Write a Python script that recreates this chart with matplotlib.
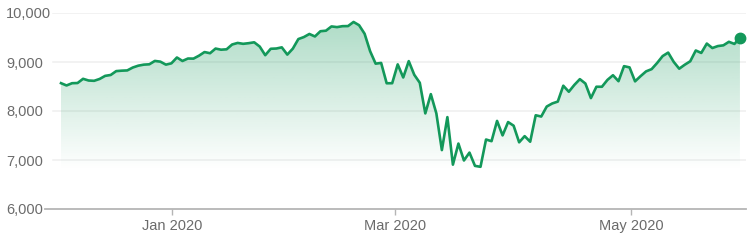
import numpy as np
import pandas as pd
import matplotlib
matplotlib.use('Agg')
import matplotlib.pyplot as plt
import matplotlib.dates as mdates

plt.rcParams['font.family'] = ['Liberation Sans', 'DejaVu Sans']

# trading days Dec 2019 - May 2020
holidays = ['2019-12-25', '2020-01-01', '2020-01-20', '2020-02-17', '2020-04-10', '2020-05-25']
dates = pd.bdate_range('2019-12-02', '2020-05-29', freq='C', holidays=holidays)

close_dec = [8568, 8521, 8567, 8571, 8657, 8622, 8616, 8654, 8717, 8735, 8814,
             8823, 8828, 8887, 8925, 8946, 8953, 9022, 9007, 8946, 8973]
close_jan = [9092, 9021, 9071, 9069, 9129, 9203, 9179, 9274, 9251, 9259, 9357,
             9389, 9371, 9384, 9402, 9315, 9139, 9270, 9275, 9299, 9151]
close_feb = [9273, 9468, 9509, 9572, 9521, 9628, 9639, 9726, 9712, 9731, 9733,
             9817, 9751, 9577, 9221, 8966, 8981, 8566, 8567]
close_mar = [8952, 8684, 9018, 8739, 8576, 7951, 8344, 7952, 7202, 7875, 6905,
             7335, 6990, 7151, 6880, 6861, 7418, 7384, 7798, 7502, 7774, 7700]
close_apr = [7361, 7487, 7373, 7913, 7887, 8091, 8154, 8192, 8516, 8393, 8532,
             8650, 8561, 8263, 8495, 8495, 8635, 8730, 8608, 8915, 8890]
close_may = [8605, 8711, 8809, 8854, 8980, 9121, 9192, 9003, 8863, 8944, 9015,
             9235, 9185, 9376, 9285, 9325, 9340, 9412, 9369, 9490]
closes = np.array(close_dec + close_jan + close_feb + close_mar + close_apr + close_may)

yticks = [6000, 7000, 8000, 9000, 10000]
xtick_dates = ['2020-01-01', '2020-03-01', '2020-05-01']
xtick_labels = ['Jan 2020', 'Mar 2020', 'May 2020']

green = '#13985a'
grey_txt = '#6b6b6b'

idx = np.arange(len(closes))
# ticks sit at calendar position between trading points
dnum = mdates.date2num(dates + pd.Timedelta(hours=16))
tick_pos = np.interp(mdates.date2num(pd.to_datetime(xtick_dates)), dnum, idx)

fig = plt.figure(figsize=(7.55, 2.41), dpi=100)
ax = fig.add_axes([45/755, 32/241, 701/755, 196/241])
ax.set_xlim(-2.9, len(closes) - 1 + 1.1)
ax.set_ylim(6000, 10000)

# gridlines
for v in yticks[1:]:
    ax.axhline(v, xmin=8/701, xmax=1, color='#efefef', lw=1.1, zorder=0)

# gradient fill under line
poly = ax.fill_between(idx, closes, 6000, color='none', lw=0)
grad = np.linspace(0, 1, 256).reshape(-1, 1)
vals = 6000 + grad * 4000
alpha = np.clip((vals - 6800) / (10000 - 6800), 0, 1) * 0.36
rgba = np.zeros((256, 1, 4))
rgba[..., 0] = 0x13 / 255
rgba[..., 1] = 0x98 / 255
rgba[..., 2] = 0x5a / 255
rgba[..., 3] = alpha
im = ax.imshow(rgba, extent=[idx[0], idx[-1], 6000, 10000], origin='lower',
               aspect='auto', zorder=1, interpolation='bilinear')
im.set_clip_path(poly.get_paths()[0], transform=ax.transData)

ax.plot(idx, closes, color=green, lw=1.9, zorder=3, solid_joinstyle='round')
ax.plot(idx[-1], closes[-1], 'o', color=green, ms=7.5, zorder=4)

for s in ['top', 'right', 'left']:
    ax.spines[s].set_visible(False)
ax.spines['bottom'].set_color('#b5b5b5')
ax.spines['bottom'].set_linewidth(1.3)

ax.set_yticks(yticks)
ax.set_yticklabels([f'{v:,}' for v in yticks])
ax.tick_params(axis='y', length=0, pad=28, labelsize=10.5, labelcolor=grey_txt)
for t in ax.get_yticklabels():
    t.set_horizontalalignment('left')

ax.set_xticks(tick_pos)
ax.set_xticklabels(xtick_labels)
ax.tick_params(axis='x', length=4, width=1, color='#b5b5b5', pad=3,
               labelsize=10.5, labelcolor=grey_txt)

fig.savefig('out.png', dpi=100)
